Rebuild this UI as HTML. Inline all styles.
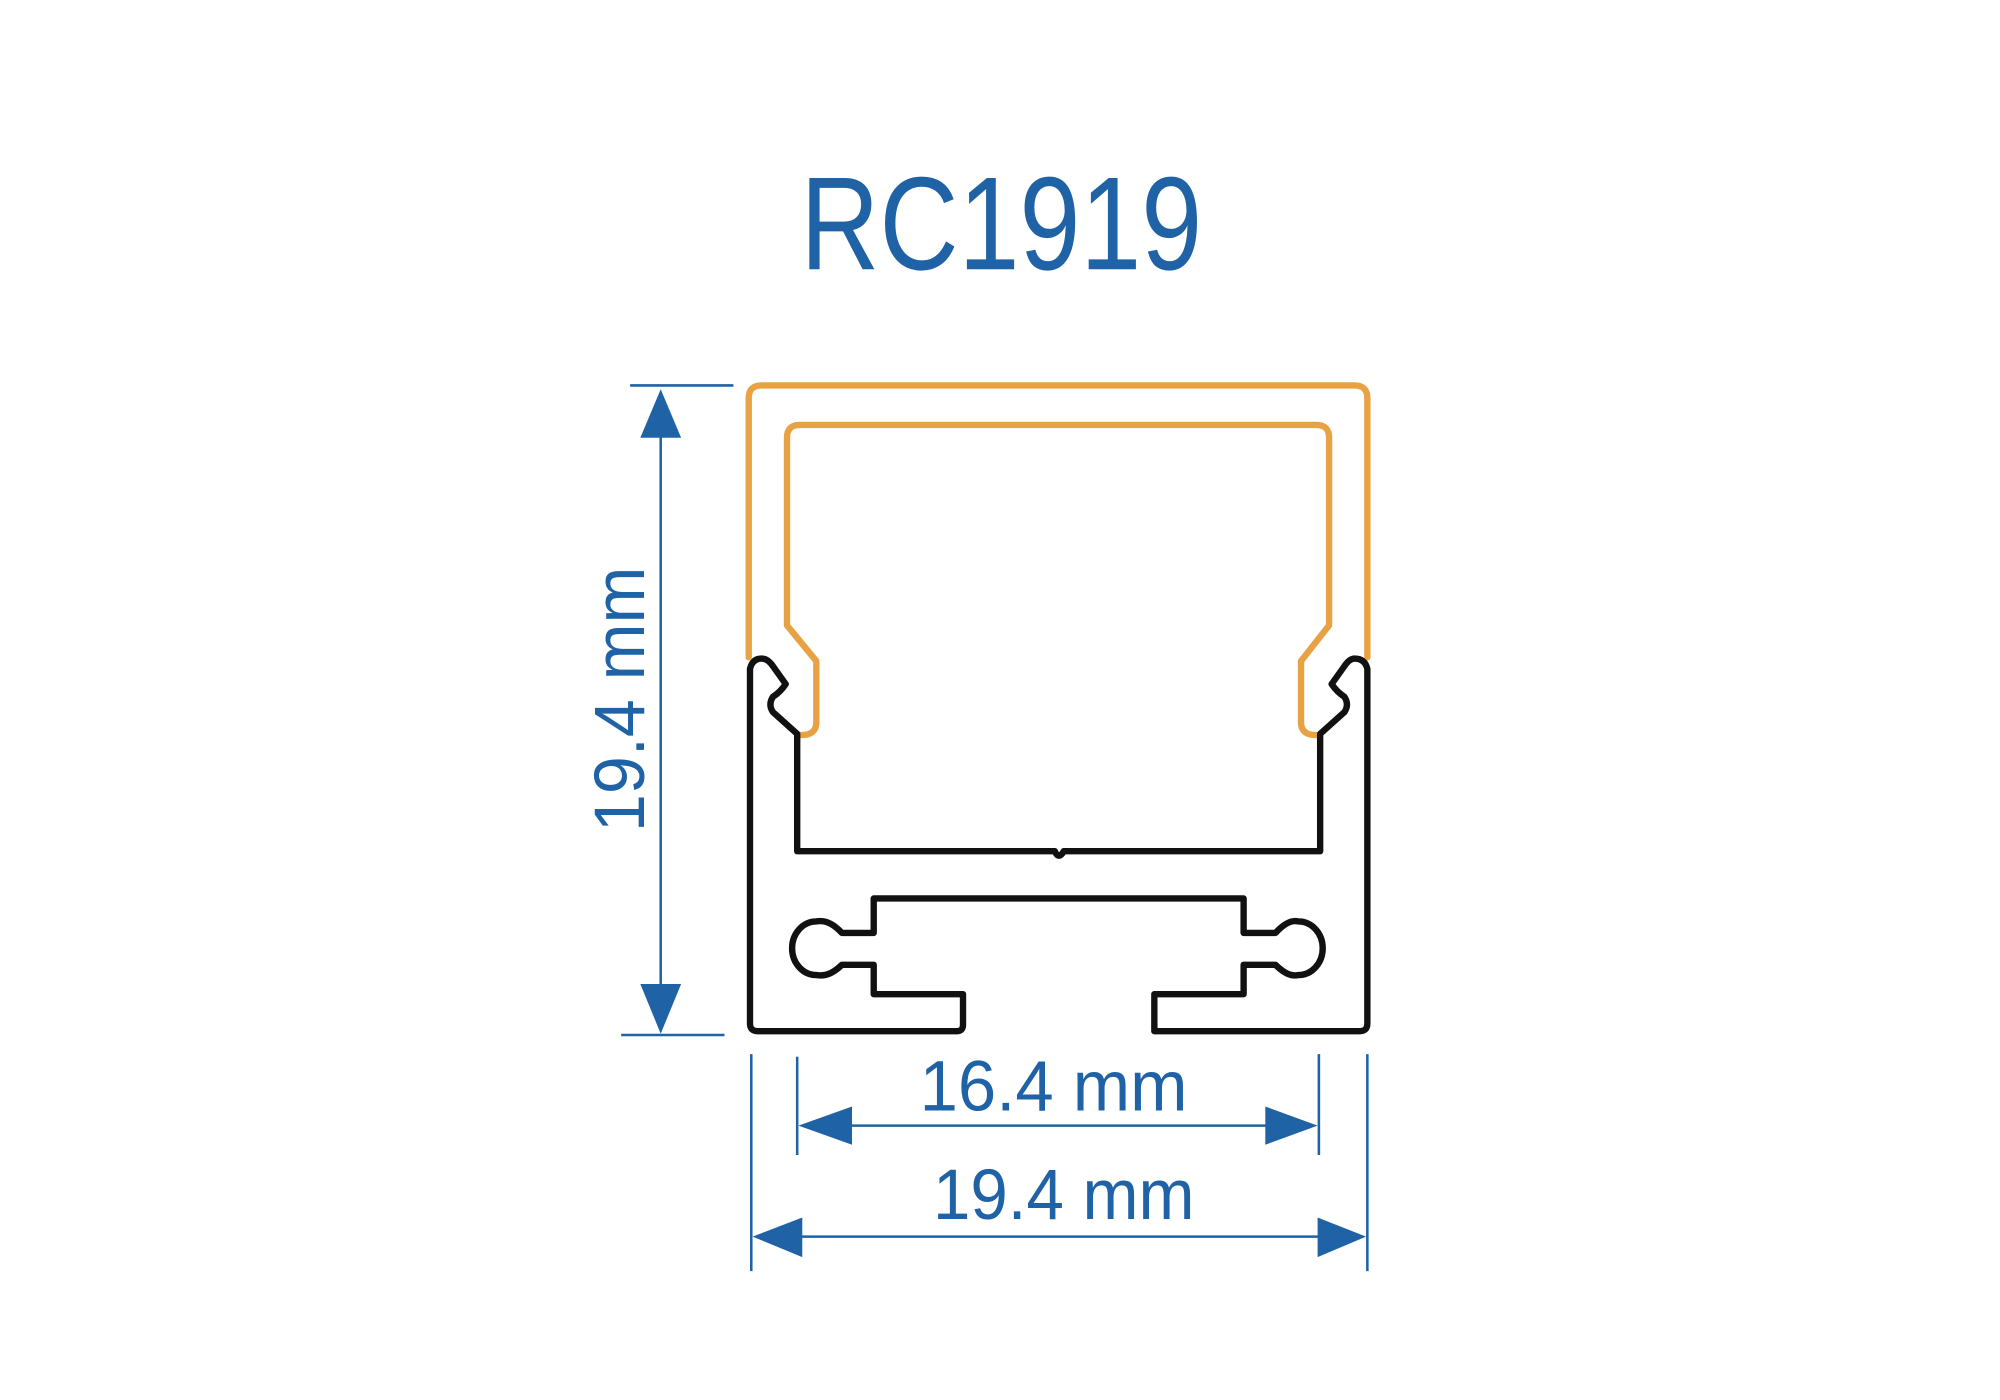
<!DOCTYPE html>
<html><head><meta charset="utf-8"><style>
html,body{margin:0;padding:0;background:#fff;}
svg{display:block;}
</style></head><body>
<svg width="2000" height="1400" viewBox="0 0 1568 1097" preserveAspectRatio="none" xmlns="http://www.w3.org/2000/svg">
<rect width="1568" height="1097" fill="#fff"/>
<text x="785" y="211" text-anchor="middle" font-family="Liberation Sans, sans-serif" font-size="104" fill="#1f63a6" textLength="315" lengthAdjust="spacingAndGlyphs">RC1919</text>

<g fill="none" stroke="#e8a243" stroke-width="5" stroke-linejoin="round" stroke-linecap="round">
<path d="M587,515 L587,312 Q587,302 597,302 L1062,302 Q1072,302 1072,312 L1072,515"/>
<path d="M628,576 Q640,576 640,566 L640,518 L617,490 L617,343 Q617,333 627,333 L1032,333 Q1042,333 1042,343 L1042,490 L1020,518 L1020,566 Q1020,576 1032,576"/>
</g>

<path fill="none" stroke="#111" stroke-width="5" stroke-linejoin="round" d="
M597,516 Q590,516 588,524 L588,802 Q588,808 594,808 L750,808 Q755,808 755,803 L755,779 L685,779 L685,756 L660,756 Q650,766 640,764 A19,21 0 1 1 640,722 Q650,720 660,731 L685,731 L685,704 L975,704 L975,731 L1000,731 Q1010,720 1018,722 A19,21 0 1 1 1018,764 Q1010,766 1000,756 L975,756 L975,779 L905,779 L905,808 L1066,808 Q1072,808 1072,802 L1072,524 Q1070,516 1062,516 Q1058,516 1054,522 L1044,536 Q1048,542 1054,546 Q1058,552 1054,558 L1035,575 L1035,667 L834,667 Q830,674 827,667 L625,667 L625,575 L606,558 Q602,552 606,546 Q612,542 616,536 L606,522 Q602,516 597,516 Z"/>

<g stroke="#1f63a6" stroke-width="2" fill="none">
<line x1="518" y1="320" x2="518" y2="790"/>
<line x1="494" y1="302" x2="575" y2="302"/>
<line x1="487" y1="811" x2="568" y2="811"/>
<line x1="589" y1="826" x2="589" y2="996"/>
<line x1="625" y1="828" x2="625" y2="905"/>
<line x1="1034" y1="826" x2="1034" y2="905"/>
<line x1="1072" y1="826" x2="1072" y2="996"/>
<line x1="660" y1="882" x2="1000" y2="882"/>
<line x1="620" y1="969" x2="1040" y2="969"/>
</g>
<g fill="#1f63a6">
<polygon points="518,305 502,343 534,343"/>
<polygon points="518,810 502,771 534,771"/>
<polygon points="626,882 668,867 668,897"/>
<polygon points="1033,882 992,867 992,897"/>
<polygon points="590,969 629,954 629,985"/>
<polygon points="1071,969 1033,954 1033,985"/>
</g>
<g font-family="Liberation Sans, sans-serif" font-size="56" fill="#1f63a6" text-anchor="middle">
<text x="826" y="870" textLength="210" lengthAdjust="spacingAndGlyphs">16.4 mm</text>
<text x="834" y="955" textLength="205" lengthAdjust="spacingAndGlyphs">19.4 mm</text>
<text x="0" y="0" transform="translate(505,548) rotate(-90)" textLength="208" lengthAdjust="spacingAndGlyphs">19.4 mm</text>
</g>
</svg>
</body></html>
